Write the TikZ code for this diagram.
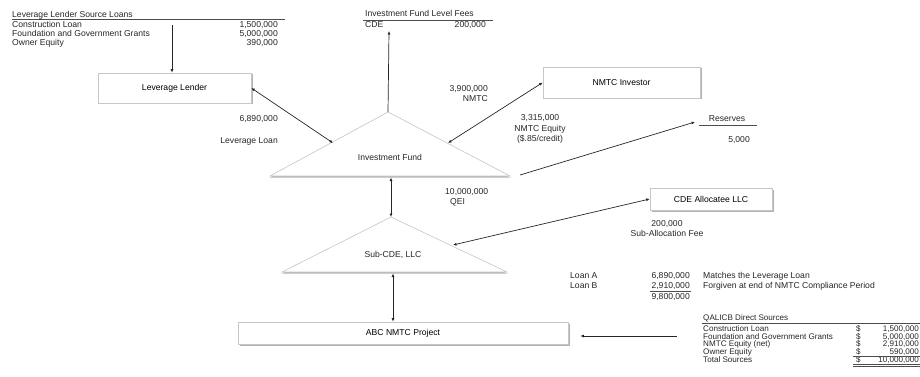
\documentclass[tikz,border=0pt]{standalone}
\usepackage{fontspec}
\setmainfont{Liberation Sans}
\usetikzlibrary{arrows.meta, shadows}
\colorlet{box_line}{gray!45}
\colorlet{shade_gray}{gray!75}
\colorlet{flow_line}{black!85}
\colorlet{rule_line}{black!70}
\tikzset{>={Latex[length=3.5pt,width=3pt]},
  entity/.style={draw=box_line, fill=white, line width=0.6pt, inner sep=0pt,
    drop shadow={shadow xshift=1.5pt, shadow yshift=-1.5pt, fill=shade_gray, opacity=0.8}
  },
  fund/.style={draw=box_line, fill=white, line width=0.6pt,
    drop shadow={shadow xshift=0pt, shadow yshift=-1.5pt, fill=shade_gray, opacity=0.8}
  },
  flow/.style={->, flow_line, line width=0.7pt},
  flow both/.style={<->, flow_line, line width=0.7pt},
  txt/.style={inner sep=0pt, text=black!85},
  rule/.style={rule_line, line width=0.8pt}
}

\begin{document}
\begin{tikzpicture}[x=1pt, y=-1pt, font=\fontsize{8.6}{10.5}\selectfont]
\useasboundingbox (0,0) rectangle (920,377);

% Leverage lender source loans table
\node[txt, anchor=mid west] (src title) at (12,15) {Leverage Lender Source Loans};
\draw[rule] (12,19.5) -- (285,19.5);
\node[txt, anchor=mid west] (src a) at (12,24.5) {Construction Loan};
\node[txt, anchor=mid west] (src b) at (12,34) {Foundation and Government Grants};
\node[txt, anchor=mid west] (src c) at (12,43) {Owner Equity};
\node[txt, anchor=mid east] (src a val) at (278,24.5) {1,500,000};
\node[txt, anchor=mid east] (src b val) at (278,34) {5,000,000};
\node[txt, anchor=mid east] (src c val) at (278,43) {390,000};
\coordinate (src out) at (172,25);

% Investment fund level fees table
\node[txt, anchor=mid west] (fee title) at (365,14) {Investment Fund Level Fees};
\draw[rule] (363,20) -- (493,20);
\node[txt, anchor=mid west] (fee cde) at (365,25) {CDE};
\node[txt, anchor=mid east] (fee val) at (486,25) {200,000};
\coordinate (fee in) at (389,31);

% Boxes
\node[entity, minimum width=153pt, minimum height=30pt] (lender) at (174.5,88) {Leverage Lender};
\node[entity, minimum width=157pt, minimum height=31pt] (investor) at (621.5,82.5) {NMTC Investor};
\node[entity, minimum width=122pt, minimum height=22pt] (allocatee) at (711,199) {CDE Allocatee LLC};
\node[entity, minimum width=330pt, minimum height=22pt] (project) at (403,333) {ABC NMTC Project};

% Investment fund triangle
\coordinate (if apex) at (388,112);
\coordinate (if bl) at (270,176);
\coordinate (if br) at (510,176);
\draw[fund] (if apex) -- (if br) -- (if bl) -- cycle;
\node[txt] (fund) at (390,157) {Investment Fund};
\coordinate (if left) at (333,143);
\coordinate (if right) at (448,143);
\coordinate (if base) at (391,177.5);
\coordinate (if out) at (520,175);

% Sub-CDE triangle
\coordinate (cde apex) at (391,217);
\coordinate (cde bl) at (282,272);
\coordinate (cde br) at (507,272);
\draw[fund] (cde apex) -- (cde br) -- (cde bl) -- cycle;
\node[txt] (subcde) at (393,255) {Sub-CDE, LLC};
\coordinate (cde right) at (453,245);
\coordinate (cde base) at (393,273.5);

% Reserves
\node[txt] (res title) at (727,119) {Reserves};
\draw[rule] (699,125) -- (757,125);
\node[txt, anchor=mid east] (res val) at (750,140) {5,000};
\coordinate (res in) at (695,122);

% Connectors
\draw[flow] (src out) -- (src out |- lender.north);
\draw[flow] (if apex) -- (fee in);
\draw[flow both] (lender.east) -- (if left);
\draw[flow both] (if right) -- (investor.west);
\draw[flow] (if out) -- (res in);
\draw[flow both] (if base) -- (cde apex);
\draw[flow both] (cde right) -- (allocatee.west);
\draw[flow both] (cde base) -- (cde base |- project.north);

% Flow labels
\node[txt, anchor=mid east] (lev amt) at (278,119) {6,890,000};
\node[txt, anchor=mid east] (lev lbl) at (278,141) {Leverage Loan};
\node[txt, align=right, anchor=east] (nmtc lbl) at (488,93.5) {3,900,000\\NMTC};
\node[txt, align=center] (eq lbl) at (540,129) {3,315,000\\NMTC Equity\\(\$.85/credit)};
\node[txt, align=left, anchor=west] (qei lbl) at (445,197.5) {10,000,000\\\hspace*{5pt}QEI};
\node[txt, align=center] (fee lbl) at (667,228.5) {200,000\\Sub-Allocation Fee};

% Loan A and B
\node[txt, anchor=mid west] (loan a) at (570,276) {Loan A};
\node[txt, anchor=mid west] (loan b) at (570,286) {Loan B};
\node[txt, anchor=mid east] (loan a val) at (690,276) {6,890,000};
\node[txt, anchor=mid east] (loan b val) at (690,286) {2,910,000};
\draw[rule, line width=0.6pt] (650,291) -- (691,291);
\node[txt, anchor=mid east] (loan tot) at (690,297) {9,800,000};
\node[txt, anchor=mid west] (loan a note) at (703,276) {Matches the Leverage Loan};
\node[txt, anchor=mid west] (loan b note) at (703,286) {Forgiven at end of NMTC Compliance Period};

% QALICB direct sources
\begin{scope}[font=\fontsize{8.1}{9.5}\selectfont]
\node[txt, anchor=mid west] (q title) at (703,318) {QALICB Direct Sources};
\draw[rule] (702,323) -- (920,323);
\foreach \lbl/\val/\y [count=\i] in {Construction Loan/{1,500,000}/329,
    Foundation and Government Grants/{5,000,000}/336.7,
    NMTC Equity (net)/{2,910,000}/344.3,
    Owner Equity/{590,000}/352,
    Total Sources/{10,000,000}/360}{
  \node[txt, anchor=mid west] (q row \i) at (703,\y) {\lbl};
  \node[txt, anchor=mid west] (q cur \i) at (856,\y) {\$};
  \node[txt, anchor=mid east] (q val \i) at (919,\y) {\val};
}
\draw[rule, line width=0.6pt] (853,356) -- (920,356);
\draw[rule, line width=0.5pt] (853,364) -- (920,364);
\draw[rule, line width=0.5pt] (853,365.8) -- (920,365.8);
\end{scope}
\coordinate (q out) at (677,336);
\draw[flow, shorten >=12pt] (q out) -- (q out -| project.east);

\end{tikzpicture}
\end{document}
